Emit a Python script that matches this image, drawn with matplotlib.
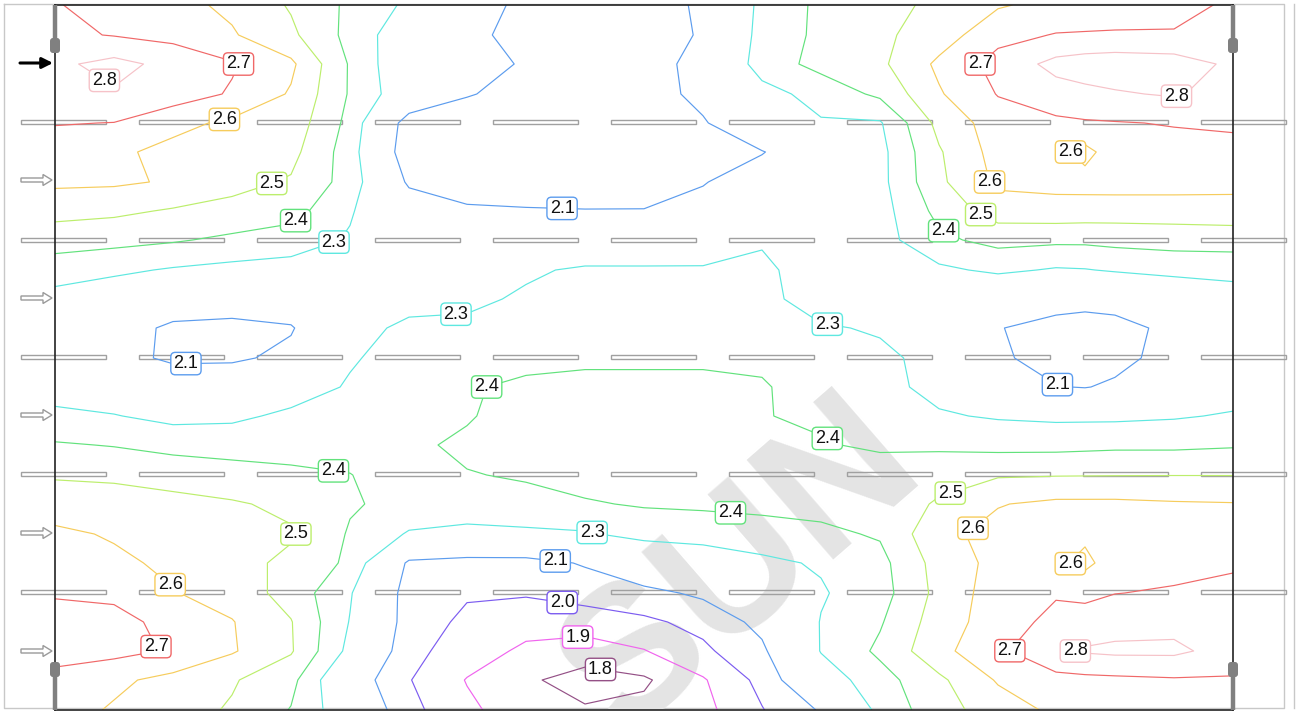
import numpy as np
import matplotlib
matplotlib.use("Agg")
import matplotlib.pyplot as plt
from matplotlib.patches import Rectangle, FancyBboxPatch, Polygon

plt.rcParams['font.family'] = ['Liberation Sans', 'DejaVu Sans']

# ---------------- data ----------------
x_grid = [55, 114, 173, 232, 291, 350, 409, 467, 526, 585, 644, 703, 762, 821, 880,
          939, 998, 1056, 1085, 1115, 1174, 1233]
y_grid = [5, 35, 64, 94, 123, 152, 182, 211, 240, 270, 299, 328, 358, 387, 416, 445,
          475, 504, 534, 563, 593, 622, 651, 680, 710]

z_grid = [
    [2.705, 2.67, 2.63, 2.58, 2.49, 2.38, 2.28, 2.14, 2.08, 2.06, 2.07, 2.11, 2.33, 2.42, 2.47, 2.52, 2.59, 2.63, 2.64, 2.65, 2.68, 2.71],
    [2.72, 2.695, 2.67, 2.61, 2.52, 2.37, 2.22, 2.13, 2.06, 2.04, 2.05, 2.11, 2.34, 2.42, 2.48, 2.55, 2.67, 2.705, 2.708, 2.71, 2.705, 2.72],
    [2.78, 2.83, 2.77, 2.71, 2.62, 2.39, 2.20, 2.14, 2.09, 2.04, 2.05, 2.14, 2.35, 2.43, 2.48, 2.62, 2.735, 2.83, 2.85, 2.86, 2.85, 2.78],
    [2.76, 2.79, 2.75, 2.69, 2.59, 2.39, 2.22, 2.11, 2.05, 2.03, 2.05, 2.13, 2.26, 2.34, 2.42, 2.59, 2.705, 2.76, 2.775, 2.79, 2.81, 2.76],
    [2.705, 2.698, 2.63, 2.58, 2.56, 2.37, 2.04, 2.02, 2.02, 2.02, 2.03, 2.09, 2.20, 2.29, 2.29, 2.53, 2.65, 2.68, 2.69, 2.695, 2.705, 2.71],
    [2.65, 2.62, 2.57, 2.55, 2.53, 2.35, 2.02, 2.01, 2.01, 2.01, 2.02, 2.05, 2.095, 2.18, 2.27, 2.49, 2.64, 2.63, 2.57, 2.65, 2.67, 2.68],
    [2.62, 2.615, 2.59, 2.53, 2.49, 2.36, 2.08, 2.05, 2.03, 2.03, 2.04, 2.095, 2.15, 2.20, 2.27, 2.48, 2.62, 2.63, 2.635, 2.64, 2.64, 2.63],
    [2.53, 2.52, 2.49, 2.47, 2.44, 2.31, 2.18, 2.115, 2.11, 2.105, 2.105, 2.13, 2.18, 2.22, 2.26, 2.43, 2.55, 2.56, 2.555, 2.55, 2.55, 2.56],
    [2.45, 2.43, 2.41, 2.38, 2.35, 2.29, 2.22, 2.18, 2.17, 2.17, 2.17, 2.18, 2.29, 2.23, 2.26, 2.38, 2.43, 2.42, 2.42, 2.43, 2.44, 2.44],
    [2.34, 2.32, 2.29, 2.27, 2.26, 2.25, 2.24, 2.24, 2.28, 2.32, 2.32, 2.32, 2.32, 2.25, 2.25, 2.28, 2.32, 2.29, 2.295, 2.31, 2.33, 2.34],
    [2.27, 2.23, 2.17, 2.16, 2.18, 2.22, 2.25, 2.27, 2.32, 2.35, 2.35, 2.35, 2.33, 2.25, 2.20, 2.19, 2.17, 2.15, 2.14, 2.15, 2.20, 2.24],
    [2.22, 2.15, 2.08, 2.07, 2.09, 2.25, 2.33, 2.33, 2.35, 2.36, 2.37, 2.37, 2.36, 2.31, 2.29, 2.20, 2.105, 2.06, 2.05, 2.06, 2.13, 2.20],
    [2.22, 2.14, 2.08, 2.08, 2.13, 2.29, 2.34, 2.36, 2.37, 2.38, 2.38, 2.38, 2.38, 2.35, 2.32, 2.27, 2.12, 2.05, 2.05, 2.06, 2.15, 2.20],
    [2.26, 2.23, 2.18, 2.20, 2.25, 2.31, 2.35, 2.39, 2.42, 2.43, 2.43, 2.43, 2.41, 2.35, 2.33, 2.27, 2.18, 2.105, 2.095, 2.12, 2.19, 2.25],
    [2.32, 2.305, 2.27, 2.28, 2.32, 2.35, 2.37, 2.39, 2.45, 2.46, 2.46, 2.46, 2.405, 2.38, 2.35, 2.31, 2.29, 2.28, 2.28, 2.28, 2.29, 2.31],
    [2.41, 2.395, 2.37, 2.36, 2.36, 2.37, 2.38, 2.42, 2.47, 2.49, 2.49, 2.49, 2.47, 2.41, 2.38, 2.38, 2.37, 2.37, 2.375, 2.38, 2.38, 2.39],
    [2.49, 2.48, 2.46, 2.44, 2.42, 2.402, 2.36, 2.395, 2.41, 2.44, 2.46, 2.47, 2.47, 2.47, 2.46, 2.47, 2.49, 2.495, 2.496, 2.497, 2.498, 2.498],
    [2.55, 2.55, 2.53, 2.51, 2.48, 2.41, 2.37, 2.36, 2.37, 2.39, 2.41, 2.42, 2.43, 2.43, 2.45, 2.51, 2.595, 2.62, 2.62, 2.62, 2.61, 2.605],
    [2.62, 2.59, 2.56, 2.53, 2.51, 2.39, 2.29, 2.27, 2.28, 2.29, 2.33, 2.33, 2.35, 2.38, 2.41, 2.575, 2.63, 2.63, 2.62, 2.64, 2.64, 2.63],
    [2.65, 2.62, 2.58, 2.53, 2.48, 2.38, 2.08, 2.06, 2.06, 2.11, 2.20, 2.25, 2.28, 2.31, 2.37, 2.54, 2.63, 2.62, 2.575, 2.65, 2.67, 2.69],
    [2.69, 2.68, 2.605, 2.56, 2.46, 2.31, 2.05, 2.01, 2.01, 2.04, 2.07, 2.12, 2.22, 2.29, 2.36, 2.53, 2.65, 2.69, 2.675, 2.698, 2.71, 2.72],
    [2.74, 2.73, 2.67, 2.605, 2.505, 2.295, 2.05, 1.98, 1.94, 1.95, 1.98, 2.03, 2.13, 2.305, 2.39, 2.55, 2.65, 2.73, 2.745, 2.76, 2.77, 2.75],
    [2.75, 2.73, 2.69, 2.61, 2.51, 2.27, 2.03, 1.95, 1.88, 1.85, 1.895, 1.98, 2.08, 2.305, 2.42, 2.57, 2.68, 2.78, 2.81, 2.82, 2.82, 2.76],
    [2.66, 2.62, 2.57, 2.51, 2.43, 2.17, 2.005, 1.895, 1.815, 1.76, 1.785, 1.89, 2.03, 2.24, 2.36, 2.48, 2.61, 2.67, 2.675, 2.68, 2.69, 2.69],
    [2.64, 2.59, 2.54, 2.49, 2.395, 2.22, 2.03, 1.92, 1.845, 1.81, 1.825, 1.87, 1.995, 2.11, 2.33, 2.46, 2.55, 2.62, 2.635, 2.65, 2.66, 2.67],
]

contour_levels = [1.8, 1.9, 2.0, 2.1, 2.3, 2.4, 2.5, 2.6, 2.7, 2.8]
level_colors = ['#945086', '#f064ee', '#7c5cf0', '#5c9cee', '#5ee8e0', '#62e27c',
                '#bcee6c', '#f6cc5c', '#f06868', '#f6c2c8']

label_positions = {
    1.8: [(600, 673)],
    1.9: [(578, 641)],
    2.0: [(562, 604)],
    2.1: [(562, 211), (186, 367), (1057, 387), (555, 563)],
    2.3: [(335, 245), (456, 314), (829, 314), (590, 543)],
    2.4: [(298, 224), (485, 383), (829, 435), (334, 467), (730, 519), (942, 234)],
    2.5: [(271, 181), (975, 226), (947, 483), (308, 537)],
    2.6: [(225, 122), (979, 191), (964, 517), (165, 591), (1066, 151), (1066, 573)],
    2.7: [(240, 62), (972, 66), (167, 641), (1002, 644)],
    2.8: [(97, 92), (1179, 107), (1066, 657)],
}

luminaire_rows = [122, 240, 357, 474, 592]
luminaire_starts = [21 + 118 * k for k in range(11)]
arrow_rows = [63, 180, 298, 415, 533, 651]

# ---------------- figure ----------------
W, H = 1298, 711
fig = plt.figure(figsize=(W / 100, H / 100), dpi=100)
fig.patch.set_facecolor('white')
ax = fig.add_axes([55 / W, 1 - 710 / H, (1233 - 55) / W, (710 - 5) / H])
ax.set_xlim(55, 1233)
ax.set_ylim(710, 5)
ax.set_xticks([])
ax.set_yticks([])
ax.patch.set_alpha(0)
for s in ax.spines.values():
    s.set_color('#222222')
    s.set_linewidth(1.2)
    s.set_zorder(5)

# outer light frame
ax.plot([4, 1284, 1284, 4, 4], [4, 4, 708, 708, 4], color='#c8c8c8', lw=1,
        clip_on=False, zorder=0.2)
ax.plot([1294, 1294], [4, 708], color='#c8c8c8', lw=1, clip_on=False, zorder=0.2)

# watermark (clipped by the plan frame, as in the original)
ax.text(742, 568, 'SUN', rotation=41, fontsize=138, fontweight='bold',
        color='#e4e4e4', ha='center', va='center', zorder=0.5, clip_on=True)

# luminaires
for yc in luminaire_rows:
    for xs in luminaire_starts:
        ax.add_patch(Rectangle((xs, yc - 2), 85, 4, fill=False, ec='#a0a0a0',
                               lw=1.0, clip_on=False, zorder=1))

# arrows
for i, ya in enumerate(arrow_rows):
    if i == 0:
        ax.annotate('', xy=(53, ya), xytext=(20, ya),
                    arrowprops=dict(arrowstyle='-|>', color='black', lw=2.2,
                                    mutation_scale=16, shrinkA=0, shrinkB=0),
                    annotation_clip=False)
    else:
        pts = [(21, ya - 2), (43, ya - 2), (43, ya - 5.5), (52, ya), (43, ya + 5.5),
               (43, ya + 2), (21, ya + 2)]
        ax.add_patch(Polygon(pts, closed=True, fc='white', ec='#9a9a9a', lw=1,
                             clip_on=False, zorder=1))

# contours
X, Y = np.meshgrid(np.array(x_grid, float), np.array(y_grid, float))
Z = np.array(z_grid)
cs = ax.contour(X, Y, Z, levels=contour_levels, colors=level_colors,
                linewidths=0.85, zorder=2)

inv = ax.transData.inverted()
for i, (lev, col) in enumerate(zip(contour_levels, level_colors)):
    for (px, py) in label_positions.get(lev, []):
        lx, ly = px, py
        try:
            disp = ax.transData.transform((px, py))
            _, _, proj = cs._find_nearest_contour(disp, [i])
            qx, qy = inv.transform(proj)
            if np.hypot(qx - px, qy - py) < 40:
                lx, ly = qx, qy
        except Exception:
            pass
        ax.text(lx, ly, f'{lev:.1f}', ha='center', va='center', fontsize=13,
                color='#111111', zorder=4,
                bbox=dict(boxstyle='round,pad=0.15,rounding_size=0.25', fc='white',
                          ec=col, lw=1.0))

# corner posts
for xp in (55, 1233):
    ax.plot([xp, xp], [5, 40], color='#808080', lw=3.2, solid_capstyle='butt',
            clip_on=False, zorder=6)
    ax.plot([xp, xp], [676, 710], color='#808080', lw=3.2, solid_capstyle='butt',
            clip_on=False, zorder=6)
    ax.add_patch(FancyBboxPatch((xp - 5, 38), 10, 15,
                                boxstyle='round,pad=0,rounding_size=3',
                                fc='#808080', ec='none', clip_on=False, zorder=6))
    ax.add_patch(FancyBboxPatch((xp - 5, 662), 10, 15,
                                boxstyle='round,pad=0,rounding_size=3',
                                fc='#808080', ec='none', clip_on=False, zorder=6))

fig.savefig('out.png', dpi=100, facecolor='white')
